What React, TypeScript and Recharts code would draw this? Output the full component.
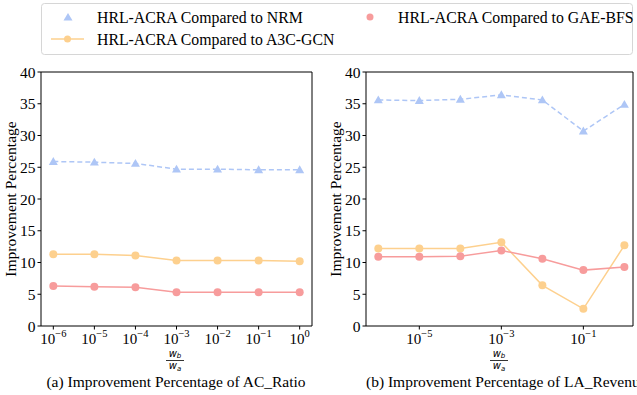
import React from 'react'
import { LineChart, Line, XAxis, YAxis, ReferenceLine } from 'recharts'

// x positions are log10(w_b / w_a)
const exponents = [-6, -5, -4, -3, -2, -1, 0]
const yTicks = [0, 5, 10, 15, 20, 25, 30, 35, 40]
const leftXTicks = [-6, -5, -4, -3, -2, -1, 0]
const rightXTicks = [-5, -3, -1]

// (a) AC_Ratio
const acNRM = [25.9, 25.8, 25.6, 24.7, 24.7, 24.6, 24.6]
const acA3C = [11.3, 11.3, 11.1, 10.3, 10.3, 10.3, 10.2]
const acGAE = [6.3, 6.2, 6.1, 5.3, 5.3, 5.3, 5.3]

// (b) LA_Revenue
const laNRM = [35.6, 35.5, 35.7, 36.4, 35.6, 30.7, 34.9]
const laA3C = [12.2, 12.2, 12.2, 13.2, 6.4, 2.7, 12.7]
const laGAE = [10.9, 10.9, 11.0, 11.9, 10.6, 8.8, 9.3]

const SERIF = '"Liberation Serif", "Times New Roman", serif'
const NRM_COLOR = '#aec6f6'
const A3C_COLOR = '#fdd08e'
const GAE_COLOR = '#f79c9c'

const buildRows = (nrm: number[], a3c: number[], gae: number[]) =>
  exponents.map((e, i) => ({ e, nrm: nrm[i], a3c: a3c[i], gae: gae[i] }))

const TriangleDot = (props: any) => {
  const { cx, cy } = props
  if (cx == null || cy == null) return null
  const r = 4.5
  return (
    <polygon
      points={`${cx},${cy - r} ${cx - r},${cy + r * 0.75} ${cx + r},${cy + r * 0.75}`}
      fill={NRM_COLOR}
    />
  )
}

const PowerTick = (props: any) => {
  const { x, y, payload } = props
  const v = payload.value
  const exp = v === 0 ? '0' : '\u2212' + Math.abs(v)
  return (
    <text x={x} y={y + 14} textAnchor="middle" fontFamily={SERIF} fontSize={15} fill="#000">
      10
      <tspan dy={-7} fontSize={10.5}>
        {exp}
      </tspan>
    </text>
  )
}

interface PanelProps {
  rows: any[]
  xTicks: number[]
  domain: [number, number]
  width: number
  yAxisWidth: number
  rightMargin: number
}

function Panel({ rows, xTicks, domain, width, yAxisWidth, rightMargin }: PanelProps) {
  return (
    <LineChart
      width={width}
      height={395}
      data={rows}
      margin={{ top: 72, right: rightMargin, bottom: 0, left: 0 }}
    >
      <XAxis
        dataKey="e"
        type="number"
        domain={domain}
        ticks={xTicks}
        allowDataOverflow
        height={69}
        tickSize={3.5}
        tickMargin={0}
        tick={<PowerTick />}
        axisLine={{ stroke: '#000' }}
        tickLine={{ stroke: '#000' }}
        interval={0}
      />
      <YAxis
        type="number"
        domain={[0, 40]}
        ticks={yTicks}
        width={yAxisWidth}
        tickSize={3.5}
        tickMargin={2}
        interval={0}
        axisLine={{ stroke: '#000' }}
        tickLine={{ stroke: '#000' }}
        tick={{ fontFamily: SERIF, fontSize: 15.5, fill: '#000' }}
      />
      <ReferenceLine y={40} stroke="#000" ifOverflow="extendDomain" />
      <ReferenceLine x={domain[1]} stroke="#000" ifOverflow="extendDomain" />
      <Line
        dataKey="nrm"
        stroke={NRM_COLOR}
        strokeWidth={1.5}
        strokeDasharray="5 3"
        dot={<TriangleDot />}
        activeDot={false}
        isAnimationActive={false}
      />
      <Line
        dataKey="a3c"
        stroke={A3C_COLOR}
        strokeWidth={1.5}
        dot={{ r: 4, fill: A3C_COLOR, stroke: 'none' }}
        activeDot={false}
        isAnimationActive={false}
      />
      <Line
        dataKey="gae"
        stroke={GAE_COLOR}
        strokeWidth={1.5}
        dot={{ r: 4, fill: GAE_COLOR, stroke: 'none' }}
        activeDot={false}
        isAnimationActive={false}
      />
    </LineChart>
  )
}

const Fraction = ({ cx }: { cx: number }) => (
  <g fontFamily='"DejaVu Sans", sans-serif' fontStyle="italic" fill="#000">
    <text x={cx} y={356.5} textAnchor="middle" fontSize={10}>
      w<tspan fontSize={7} dy={1.5}>b</tspan>
    </text>
    <line x1={cx - 9} x2={cx + 9} y1={360.5} y2={360.5} stroke="#000" strokeWidth={0.8} />
    <text x={cx} y={369} textAnchor="middle" fontSize={10}>
      w<tspan fontSize={7} dy={1.5}>a</tspan>
    </text>
  </g>
)

export default function App() {
  const leftRows = buildRows(acNRM, acA3C, acGAE)
  const rightRows = buildRows(laNRM, laA3C, laGAE)

  return (
    <div style={{ position: 'absolute', left: 0, top: 0, width: 637, height: 395, background: '#fff', overflow: 'hidden' }}>
      <div style={{ position: 'absolute', left: 0, top: 0 }}>
        <Panel rows={leftRows} xTicks={leftXTicks} domain={[-6.3, 0.3]} width={320} yAxisWidth={41} rightMargin={8} />
      </div>
      <div style={{ position: 'absolute', left: 320, top: 0 }}>
        <Panel rows={rightRows} xTicks={rightXTicks} domain={[-6.3, 0.21]} width={317} yAxisWidth={46} rightMargin={4} />
      </div>
      <svg width={637} height={395} style={{ position: 'absolute', left: 0, top: 0, pointerEvents: 'none' }}>
        {/* legend */}
        <rect x={41.5} y={3.5} width={591} height={51} rx={3} fill="#fff" fillOpacity={0.8} stroke="#d6d6d6" />
        <g fontFamily={SERIF} fontSize={15.8} fill="#000">
          <polygon points="68,13 63.5,20.5 72.5,20.5" fill={NRM_COLOR} />
          <text x={97} y={23}>HRL-ACRA Compared to NRM</text>
          <circle cx={370} cy={17} r={3.5} fill={GAE_COLOR} />
          <text x={398} y={23}>HRL-ACRA Compared to GAE-BFS</text>
          <line x1={51} x2={84} y1={39} y2={39} stroke={A3C_COLOR} strokeWidth={1.5} />
          <circle cx={67.5} cy={39} r={3.5} fill={A3C_COLOR} />
          <text x={97} y={45}>HRL-ACRA Compared to A3C-GCN</text>
        </g>
        {/* y labels */}
        <text x={16} y={199} transform="rotate(-90 16 199)" textAnchor="middle" fontFamily={SERIF} fontSize={15.5} fill="#000">
          Improvement Percentage
        </text>
        <text x={341} y={199} transform="rotate(-90 341 199)" textAnchor="middle" fontFamily={SERIF} fontSize={15.5} fill="#000">
          Improvement Percentage
        </text>
        <Fraction cx={175} />
        <Fraction cx={499} />
        <text x={176} y={387} textAnchor="middle" fontFamily={SERIF} fontSize={15.5} fill="#000">
          (a) Improvement Percentage of AC_Ratio
        </text>
        <text x={366} y={387} fontFamily={SERIF} fontSize={15.5} fill="#000">
          (b) Improvement Percentage of LA_Revenue
        </text>
      </svg>
    </div>
  )
}
